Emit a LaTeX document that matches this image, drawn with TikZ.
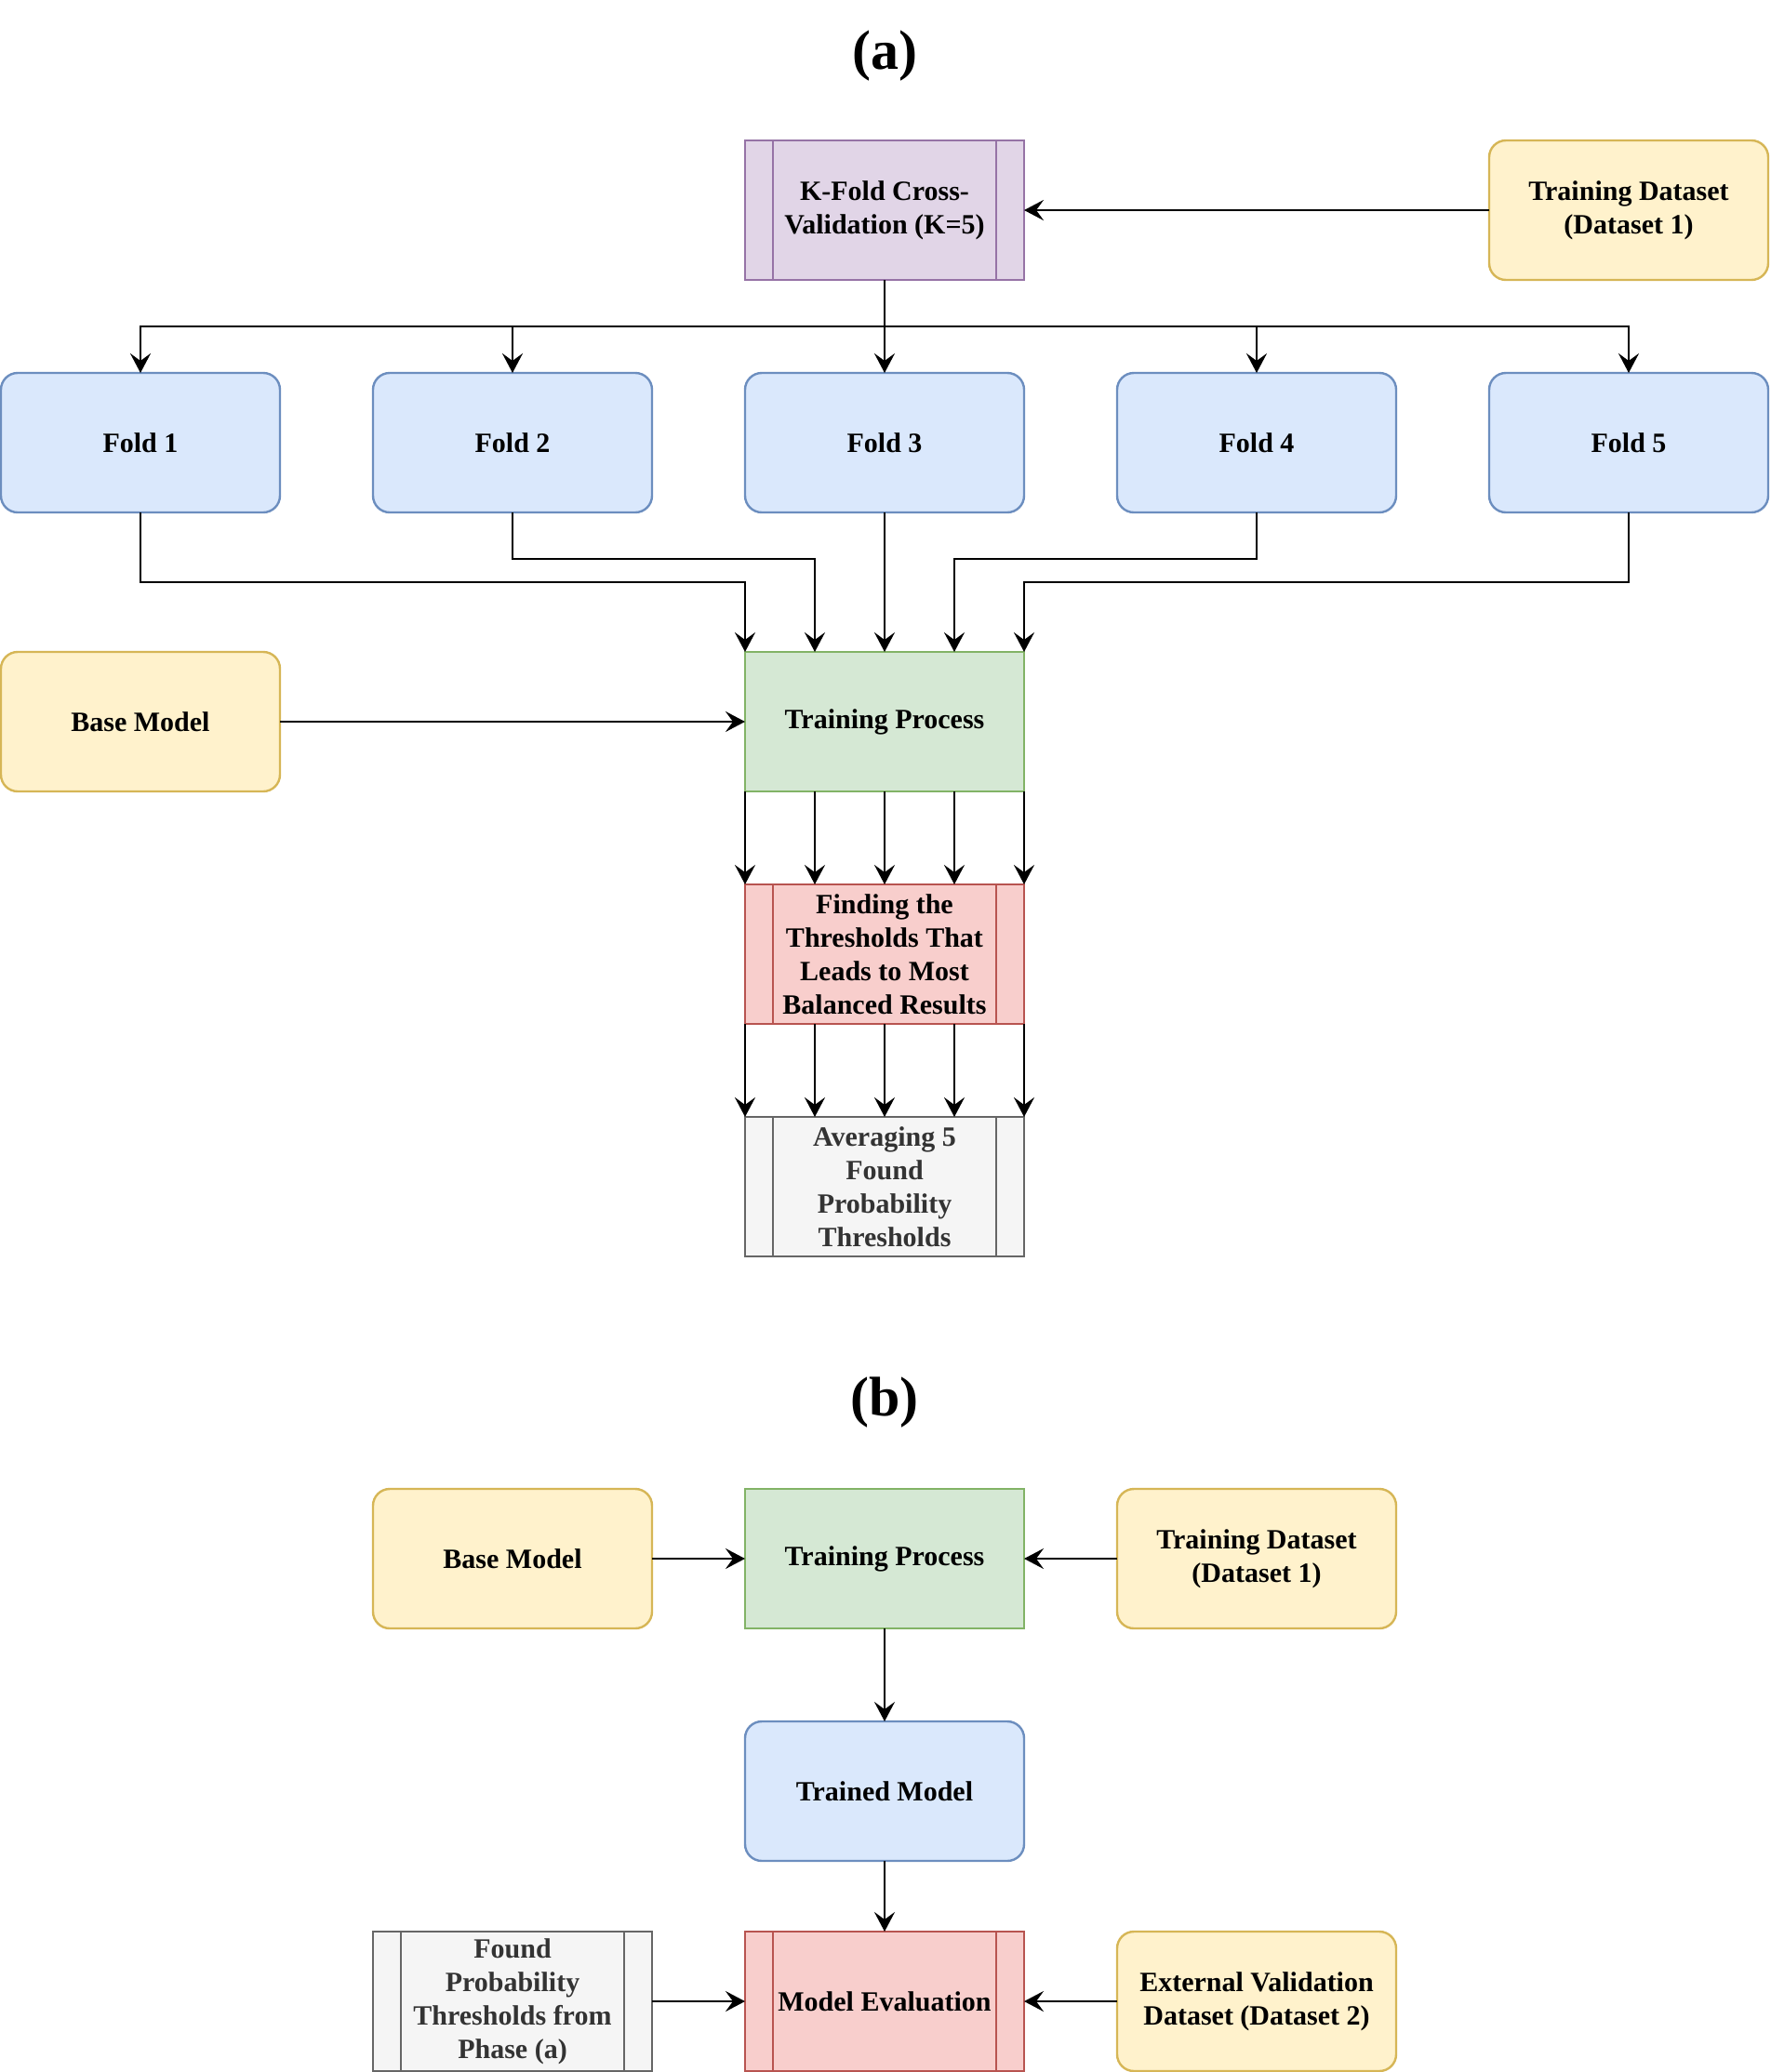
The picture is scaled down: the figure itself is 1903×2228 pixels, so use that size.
\documentclass[tikz,border=0pt]{standalone}
\usepackage{fontspec}
\setmainfont{Liberation Serif}
\usetikzlibrary{arrows.meta,calc}
\definecolor{purF}{HTML}{E1D5E7}\definecolor{purD}{HTML}{9673A6}
\definecolor{yelF}{HTML}{FFF2CC}\definecolor{yelD}{HTML}{D6B656}
\definecolor{bluF}{HTML}{DAE8FC}\definecolor{bluD}{HTML}{6C8EBF}
\definecolor{greF}{HTML}{D5E8D4}\definecolor{greD}{HTML}{82B366}
\definecolor{redF}{HTML}{F8CECC}\definecolor{redD}{HTML}{B85450}
\definecolor{gryF}{HTML}{F5F5F5}\definecolor{gryD}{HTML}{666666}
\definecolor{gryT}{HTML}{333333}
\begin{document}
\begin{tikzpicture}[x=0.5pt,y=-0.5pt,
  basebox/.style={draw, line width=1.2pt, minimum width=150pt, minimum height=75pt,
    inner sep=0pt, outer sep=0pt, align=center,
    font=\fontsize{15}{18}\selectfont\bfseries, text=black},
  rbox/.style={basebox, rounded corners=9pt},
  pbox/.style={basebox},
  yel/.style={fill=yelF, draw=yelD},
  pur/.style={fill=purF, draw=purD},
  blu/.style={fill=bluF, draw=bluD},
  gre/.style={fill=greF, draw=greD},
  red/.style={fill=redF, draw=redD},
  gry/.style={fill=gryF, draw=gryD, text=gryT},
  arr/.style={-{Stealth[length=10.5pt,width=11pt,inset=4pt]}, line width=1.25pt},
  ttl/.style={font=\fontsize{30}{36}\selectfont\bfseries, inner sep=0pt},
  sidebar/.style={line width=1.2pt}
]
\useasboundingbox (0,0) rectangle (1903,2228);

% ---------- (a) ----------
\node[ttl] (ta) at (951,60) {(a)};
\node[pbox,pur] (kf) at (951,226) {K-Fold Cross-\\Validation (K=5)};
\node[rbox,yel] (tda) at (1751,226) {Training Dataset\\(Dataset 1)};
\node[rbox,blu] (f1) at (151,476) {Fold 1};
\node[rbox,blu] (f2) at (551,476) {Fold 2};
\node[rbox,blu] (f3) at (951,476) {Fold 3};
\node[rbox,blu] (f4) at (1351,476) {Fold 4};
\node[rbox,blu] (f5) at (1751,476) {Fold 5};
\node[rbox,yel] (bma) at (151,776) {Base Model};
\node[pbox,gre] (tpa) at (951,776) {Training Process};
\node[pbox,red] (fd) at (951,1026) {Finding the\\Thresholds That\\Leads to Most\\Balanced Results};
\node[pbox,gry] (av) at (951,1276) {Averaging 5\\Found\\Probability\\Thresholds};

\coordinate (bus) at (0,351);
\coordinate (r1) at (0,626);
\coordinate (r2) at (0,601);

\draw[arr] (tda.west) -- (kf.east);
\foreach \f in {f1,f2,f3,f4,f5}{
  \draw[arr] (kf.south) -- (kf.south |- bus) -| (\f.north);
}
\draw[arr] (f1.south) -- (f1.south |- r1) -| (tpa.north west);
\draw[arr] (f2.south) -- (f2.south |- r2) -| ([xshift=37.5pt]tpa.north west);
\draw[arr] (f3.south) -- (tpa.north);
\draw[arr] (f4.south) -- (f4.south |- r2) -| ([xshift=-37.5pt]tpa.north east);
\draw[arr] (f5.south) -- (f5.south |- r1) -| (tpa.north east);
\draw[arr] (bma.east) -- (tpa.west);
\foreach \s in {-75,-37.5,0,37.5,75}{
  \draw[arr] ([xshift=\s pt]tpa.south) -- ([xshift=\s pt]fd.north);
  \draw[arr] ([xshift=\s pt]fd.south) -- ([xshift=\s pt]av.north);
}

% ---------- (b) ----------
\node[ttl] (tb) at (951,1508) {(b)};
\node[rbox,yel] (bmb) at (551,1676) {Base Model};
\node[pbox,gre] (tpb) at (951,1676) {Training Process};
\node[rbox,yel] (tdb) at (1351,1676) {Training Dataset\\(Dataset 1)};
\node[rbox,blu] (tm) at (951,1926) {Trained Model};
\node[pbox,gry] (fp) at (551,2152) {Found\\Probability\\Thresholds from\\Phase (a)};
\node[pbox,red] (me) at (951,2152) {Model Evaluation};
\node[rbox,yel] (ev) at (1351,2152) {External Validation\\Dataset (Dataset 2)};

\draw[arr] (bmb.east) -- (tpb.west);
\draw[arr] (tdb.west) -- (tpb.east);
\draw[arr] (tpb.south) -- (tm.north);
\draw[arr] (tm.south) -- (me.north);
\draw[arr] (fp.east) -- (me.west);
\draw[arr] (ev.west) -- (me.east);

% side bars of process boxes
\foreach \n/\c in {kf/purD, fd/redD, av/gryD, fp/gryD, me/redD}{
  \draw[sidebar, draw=\c] ([xshift=15pt]\n.north west) -- ([xshift=15pt]\n.south west);
  \draw[sidebar, draw=\c] ([xshift=-15pt]\n.north east) -- ([xshift=-15pt]\n.south east);
}
\end{tikzpicture}
\end{document}
